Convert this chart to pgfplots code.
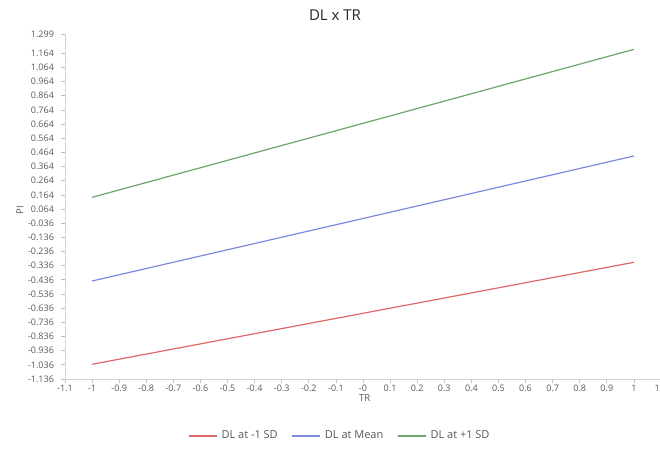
\documentclass[border=0pt]{standalone}
\usepackage{fontspec}
\setmainfont{Open Sans}
\usepackage{pgfplots}
\pgfplotsset{compat=1.18}
\definecolor{cred}{RGB}{222,104,104}
\definecolor{cblue}{RGB}{122,138,222}
\definecolor{cgreen}{RGB}{108,166,108}
\definecolor{ctick}{RGB}{89,89,89}
\begin{document}
\begin{tikzpicture}
\begin{axis}[
  scale only axis, width=298pt, height=172.4pt,
  xmin=-1.1, xmax=1.1, ymin=-1.136, ymax=1.299,
  axis x line=bottom, axis y line=left,
  axis line style={-, draw=black!18, line width=0.4pt},
  tick style={draw=black!25, line width=0.4pt},
  tick align=outside, major tick length=2pt,
  xtick={-1.1,-1,-0.9,-0.8,-0.7,-0.6,-0.5,-0.4,-0.3,-0.2,-0.1,0,0.1,0.2,0.3,0.4,0.5,0.6,0.7,0.8,0.9,1,1.1},
  xticklabels={-1.1,-1,-0.9,-0.8,-0.7,-0.6,-0.5,-0.4,-0.3,-0.2,-0.1,-0,0.1,0.2,0.3,0.4,0.5,0.6,0.7,0.8,0.9,1,1.1},
  ytick={-1.136,-1.036,-0.936,-0.836,-0.736,-0.636,-0.536,-0.436,-0.336,-0.236,-0.136,-0.036,0.064,0.164,0.264,0.364,0.464,0.564,0.664,0.764,0.864,0.964,1.064,1.164,1.299},
  yticklabels={-1.136,-1.036,-0.936,-0.836,-0.736,-0.636,-0.536,-0.436,-0.336,-0.236,-0.136,-0.036,0.064,0.164,0.264,0.364,0.464,0.564,0.664,0.764,0.864,0.964,1.064,1.164,1.299},
  ticklabel style={font=\fontsize{4.5}{5}\selectfont, text=ctick},
  xticklabel style={yshift=2.5pt},
  xlabel={TR}, ylabel={PI},
  xlabel style={at={(axis description cs:0.503,0)}, anchor=center, yshift=-9.5pt, font=\fontsize{4.8}{5}\selectfont, text=ctick},
  ylabel style={at={(axis description cs:-0.0755,0.49)}, anchor=center, font=\fontsize{4.8}{5}\selectfont, text=ctick},
  title={DL x TR},
  title style={at={(axis description cs:0.453,1)}, anchor=center, yshift=3.6pt, font=\fontsize{7.5}{8}\selectfont, text=black!85},
  legend columns=3,
  legend style={draw=none, fill=none, at={(axis description cs:0.463,0)}, yshift=-28.5pt, anchor=center,
    font=\fontsize{5.5}{6}\selectfont, text=ctick, /tikz/every even column/.append style={column sep=5pt}},
  legend image code/.code={\draw[#1] (0pt,0pt) -- (14pt,0pt);},
]
\addplot[cred, line width=0.6pt] coordinates {(-1,-1.032) (1,-0.312)};
\addlegendentry{DL at -1 SD}
\addplot[cblue, line width=0.6pt] coordinates {(-1,-0.444) (1,0.439)};
\addlegendentry{DL at Mean}
\addplot[cgreen, line width=0.6pt] coordinates {(-1,0.147) (1,1.192)};
\addlegendentry{DL at +1 SD}
\end{axis}
\pgfresetboundingbox
\path (-32.5pt,-36.5pt) rectangle (297.5pt,189.5pt);
\end{tikzpicture}
\end{document}
